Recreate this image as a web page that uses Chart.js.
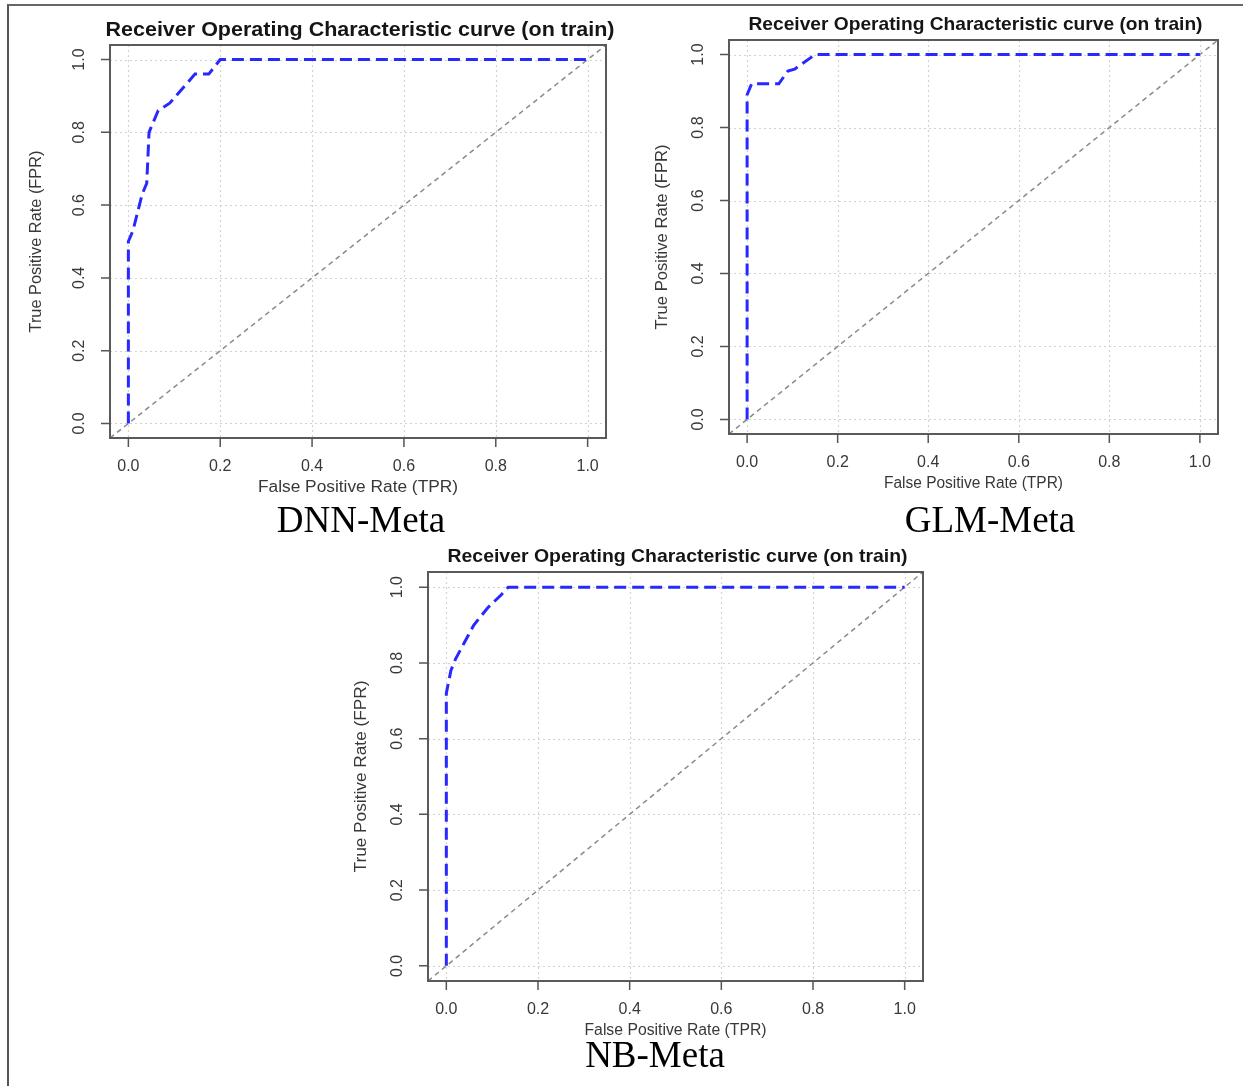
<!DOCTYPE html>
<html>
<head>
<meta charset="utf-8">
<script src="https://cdn.jsdelivr.net/npm/chart.js@4.4.1/dist/chart.umd.min.js"></script>
<style>
  html, body { margin: 0; padding: 0; background: #fff; }
  body { width: 1243px; height: 1086px; position: relative; overflow: hidden; }
  .frame { position: absolute; left: 7px; top: 4px; right: 0; bottom: 0;
           border-top: 2px solid #666; border-left: 2px solid #555; }
  canvas.roc { position: absolute; left: 0; top: 0; }
</style>
</head>
<body>
<div class="frame"></div>
<canvas class="roc" id="dnn" width="1243" height="1086"></canvas>
<canvas class="roc" id="glm" width="1243" height="1086"></canvas>
<canvas class="roc" id="nb" width="1243" height="1086"></canvas>

<script>
// axis ticks shared by all three plots
const tickValues = [0, 0.2, 0.4, 0.6, 0.8, 1.0];
const tickLabels = ["0.0", "0.2", "0.4", "0.6", "0.8", "1.0"];
const axisRange = [-0.04, 1.04];

const plotTitle = "Receiver Operating Characteristic curve (on train)";
const xTitle = "False Positive Rate (TPR)";
const yTitle = "True Positive Rate (FPR)";
const captions = ["DNN-Meta", "GLM-Meta", "NB-Meta"];

// ROC points (false positive rate, true positive rate)
const dnnFpr = [0, 0, 0.01, 0.03, 0.04, 0.045, 0.065, 0.09, 0.145, 0.175, 0.2, 1];
const dnnTpr = [0, 0.5, 0.53, 0.63, 0.66, 0.8, 0.86, 0.88, 0.96, 0.96, 1, 1];

const glmFpr = [0, 0, 0.01, 0.07, 0.09, 0.105, 0.15, 1];
const glmTpr = [0, 0.89, 0.92, 0.92, 0.955, 0.96, 1, 1];

const nbFpr = [0, 0, 0.01, 0.02, 0.04, 0.06, 0.09, 0.12, 0.135, 1];
const nbTpr = [0, 0.72, 0.78, 0.81, 0.855, 0.9, 0.945, 0.98, 1, 1];

// chance line runs corner to corner of the plotting region
const chanceX = [-0.04, 1.04];
const chanceY = [-0.04, 1.04];

const SANS = '"Liberation Sans", Arial, sans-serif';
const SERIF = '"Liberation Serif", "Times New Roman", serif';

const toPoints = (xs, ys) => xs.map((x, i) => ({ x: x, y: ys[i] }));

function fitText(ctx, text, x, y, font, width, vertical) {
  ctx.save();
  ctx.translate(x, y);
  if (vertical) ctx.rotate(-Math.PI / 2);
  ctx.font = font;
  if (width) {
    const w = ctx.measureText(text).width;
    ctx.scale(width / w, 1);
  }
  ctx.fillText(text, 0, 0);
  ctx.restore();
}

// R style frame: dotted grid, box, outward ticks and labels
const rocFrame = {
  id: "rocFrame",
  beforeDatasetsDraw(chart) {
    const { ctx, chartArea: a, scales } = chart;
    ctx.save();
    ctx.strokeStyle = "#d2d2d2";
    ctx.lineWidth = 1.2;
    ctx.setLineDash([2, 3]);
    tickValues.forEach((v) => {
      const px = Math.round(scales.x.getPixelForValue(v)) + 0.5;
      const py = Math.round(scales.y.getPixelForValue(v)) + 0.5;
      ctx.beginPath();
      ctx.moveTo(px, a.top);
      ctx.lineTo(px, a.bottom);
      ctx.moveTo(a.left, py);
      ctx.lineTo(a.right, py);
      ctx.stroke();
    });
    ctx.restore();
  },
  afterDatasetsDraw(chart, args, opts) {
    const { ctx, chartArea: a, scales } = chart;
    ctx.save();
    ctx.strokeStyle = "#5a5a5a";
    ctx.lineWidth = 2;
    ctx.strokeRect(a.left, a.top, a.right - a.left, a.bottom - a.top);

    ctx.lineWidth = 1.5;
    ctx.strokeStyle = "#555";
    ctx.fillStyle = "#383838";
    ctx.textAlign = "center";
    ctx.textBaseline = "middle";
    tickValues.forEach((v, i) => {
      const px = scales.x.getPixelForValue(v);
      const py = scales.y.getPixelForValue(v);
      ctx.beginPath();
      ctx.moveTo(px, a.bottom);
      ctx.lineTo(px, a.bottom + 9);
      ctx.moveTo(a.left - 9, py);
      ctx.lineTo(a.left, py);
      ctx.stroke();
      fitText(ctx, tickLabels[i], px, a.bottom + 29, opts.tickFont, 0, false);
      fitText(ctx, tickLabels[i], a.left - 30, py, opts.tickFont, 0, true);
    });

    const cx = (a.left + a.right) / 2;
    const cy = (a.top + a.bottom) / 2;
    fitText(ctx, xTitle, cx, a.bottom + 50, opts.labelFont, opts.xTitleW, false);
    fitText(ctx, yTitle, opts.yTitleX, cy, opts.labelFont, opts.yTitleW, true);

    ctx.fillStyle = "#151515";
    fitText(ctx, plotTitle, cx + 2, a.top - 15, opts.titleFont, opts.titleW, false);

    ctx.fillStyle = "#000";
    ctx.textBaseline = "alphabetic";
    fitText(ctx, opts.caption, opts.captionX, opts.captionY, "37px " + SERIF, 0, false);
    ctx.restore();
  },
};

const panels = [
  { id: "dnn", fpr: dnnFpr, tpr: dnnTpr, box: [110, 45, 606, 438],
    frame: { caption: captions[0], captionX: 361, captionY: 532, titleW: 509, xTitleW: 200,
             yTitleW: 182, yTitleX: 37, titleFont: "bold 20px " + SANS,
             tickFont: "16px " + SANS, labelFont: "16px " + SANS } },
  { id: "glm", fpr: glmFpr, tpr: glmTpr, box: [729, 40, 1218, 434],
    frame: { caption: captions[1], captionX: 990, captionY: 532, titleW: 454, xTitleW: 179,
             yTitleW: 185, yTitleX: 663, titleFont: "bold 19px " + SANS,
             tickFont: "16px " + SANS, labelFont: "16px " + SANS } },
  { id: "nb", fpr: nbFpr, tpr: nbTpr, box: [428, 572, 923, 981],
    frame: { caption: captions[2], captionX: 655, captionY: 1067, titleW: 460, xTitleW: 182,
             yTitleW: 192, yTitleX: 362, titleFont: "bold 19px " + SANS,
             tickFont: "16px " + SANS, labelFont: "16px " + SANS } },
];

panels.forEach((p) => {
  const canvas = document.getElementById(p.id);
  const [left, top, right, bottom] = p.box;
  new Chart(canvas, {
    type: "scatter",
    data: {
      datasets: [
        {
          data: toPoints(p.fpr, p.tpr),
          showLine: true,
          borderColor: "rgb(40, 40, 255)",
          borderWidth: 3,
          borderDash: [12, 6],
          pointRadius: 0,
        },
        {
          data: toPoints(chanceX, chanceY),
          showLine: true,
          borderColor: "#8a8a8a",
          borderWidth: 1.5,
          borderDash: [5, 4],
          pointRadius: 0,
        },
      ],
    },
    options: {
      responsive: false,
      animation: false,
      events: [],
      layout: {
        padding: { left: left, top: top, right: canvas.width - right, bottom: canvas.height - bottom },
      },
      elements: { line: { tension: 0 } },
      scales: {
        x: { type: "linear", min: axisRange[0], max: axisRange[1], display: false },
        y: { type: "linear", min: axisRange[0], max: axisRange[1], display: false },
      },
      plugins: {
        legend: { display: false },
        tooltip: { enabled: false },
        rocFrame: p.frame,
      },
    },
    plugins: [rocFrame],
  });
});
</script>
</body>
</html>
